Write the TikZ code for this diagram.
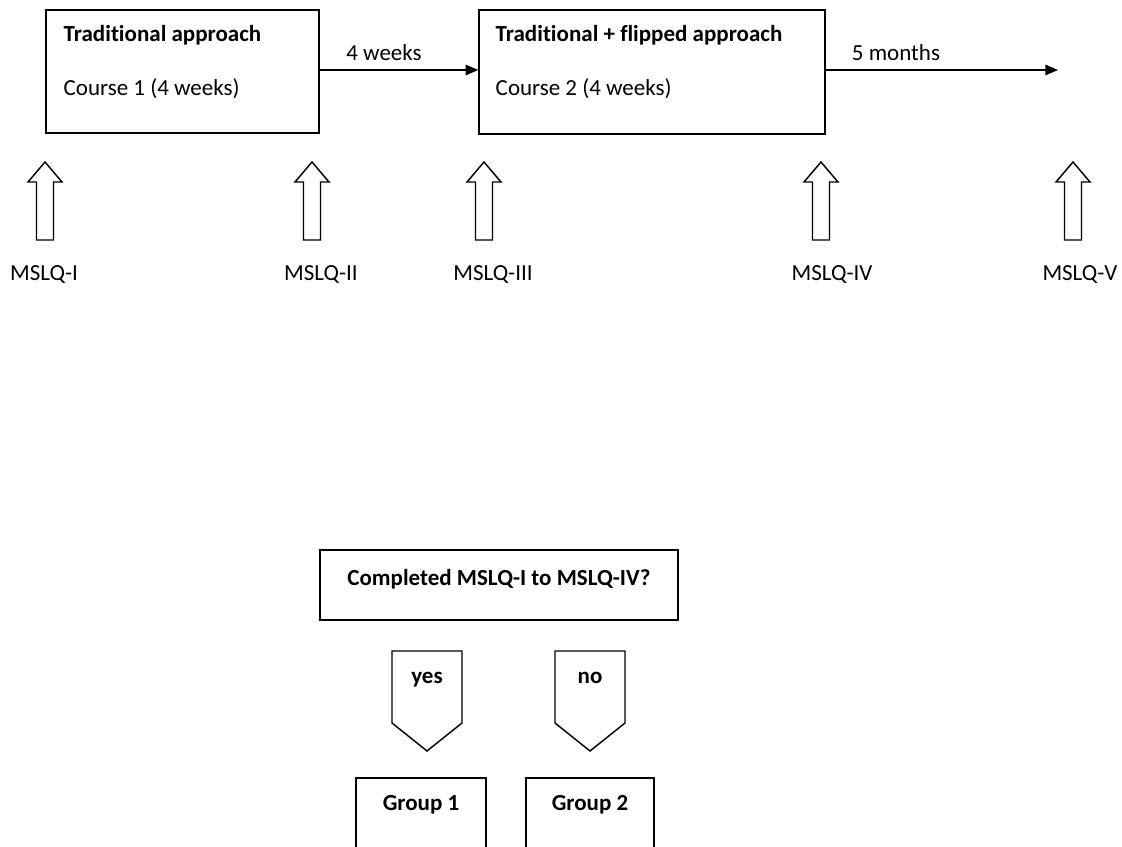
\documentclass[tikz,border=0pt]{standalone}
\usepackage{fontspec}
\setmainfont{Carlito}[RawFeature=-liga]
\usetikzlibrary{arrows.meta}
\begin{document}
\begin{tikzpicture}[x=0.0168cm,y=-0.0168cm,line width=0.7pt,font=\fontsize{11}{13}\selectfont]
  \tikzstyle{every node}+=[inner sep=0pt,text height=10.3pt,text depth=2pt]
  \tikzstyle{box}=[draw,black,rectangle,text height=,text depth=]
  \tikzstyle{flow}=[black,-{Triangle[length=6pt,width=5pt]}]
  \tikzstyle{heading}=[font=\fontsize{11}{13}\selectfont\bfseries]
  \useasboundingbox (0,0) rectangle (1122,847);
  \clip (0,0) rectangle (1122,847);
  % courses on the time line
  \node [box,minimum width=4.586cm,minimum height=2.066cm] (course1) at (182.5,71.5) {};
  \node [anchor=west,heading] (title1) at (63,33) {Traditional approach};
  \node [anchor=west] (text1) at (63,87) {Course 1 (4 weeks)};
  \node [box,minimum width=5.813cm,minimum height=2.083cm] (course2) at (652,72) {};
  \node [anchor=west,heading] (title2) at (495,33) {Traditional + flipped approach};
  \node [anchor=west] (text2) at (495,87) {Course 2 (4 weeks)};
  \coordinate (end) at (1058,70);
  \draw [flow] (course1.east |- end) -- (course2.west |- end);
  \draw [flow] (course2.east |- end) -- (end);
  \node (gap1) at (384,52) {4 weeks};
  \node (gap2) at (896,52) {5 months};
  % measurement points
  \foreach \x/\lx/\name/\lab in {45/44/mslq1/MSLQ-I, 312/321/mslq2/MSLQ-II, 484/493/mslq3/MSLQ-III, 821/832/mslq4/MSLQ-IV, 1073/1080/mslq5/MSLQ-V}
  {
    \draw [black] (\x-8.5,240) -- (\x-8.5,182) -- (\x-17,182) -- (\x,162) -- (\x+17,182) -- (\x+8.5,182) -- (\x+8.5,240) -- cycle;
    \node (\name) at (\lx,272) {\lab};
  }
  % grouping
  \node [box,minimum width=6.014cm,minimum height=1.176cm] (question) at (499,585) {};
  \node [heading] (qtext) at (499,577) {Completed MSLQ-I to MSLQ-IV?};
  \draw [black] (392,651) -- (462,651) -- (462,723) -- (427,751) -- (392,723) -- cycle;
  \node [heading] (yes) at (427,675) {yes};
  \draw [black] (555,651) -- (625,651) -- (625,723) -- (590,751) -- (555,723) -- cycle;
  \node [heading] (no) at (590,675) {no};
  \node [box,minimum width=2.184cm,minimum height=2.52cm] (group1) at (421,853) {};
  \node [heading] (g1text) at (421,802) {Group 1};
  \node [box,minimum width=2.15cm,minimum height=2.52cm] (group2) at (590,853) {};
  \node [heading] (g2text) at (590,802) {Group 2};
\end{tikzpicture}
\end{document}
